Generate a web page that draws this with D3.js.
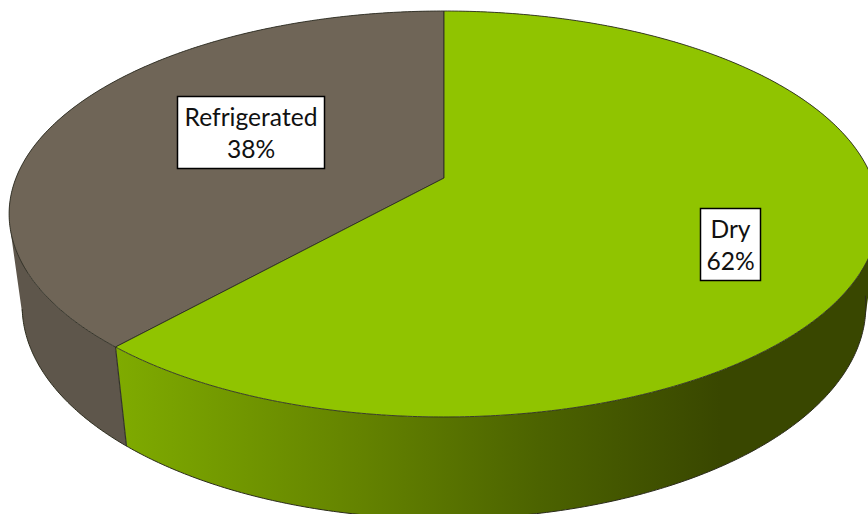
<!DOCTYPE html>
<html lang="en">
    <head>
        <meta charset="utf-8">
        <title>Dry vs Refrigerated</title>
        <script src="https://d3js.org/d3.v7.min.js"></script>
        <style type="text/css">
            html, body { margin: 0; padding: 0; background: #fff; }
            svg { display: block; }
            text { font-family: Lato, "Open Sans", sans-serif; font-size: 24.6px; fill: #111; text-anchor: middle; }
        </style>
    </head>
    <body>
        <script type="text/javascript">

            //data
            const categories = ["Refrigerated", "Dry"];
            const shares = [38.4, 61.6];

            //consts
            const w = 868;
            const h = 514;
            const topColors = ["#6f6557", "#90c400"];
            const wallFill = ["#5e564b", "url(#dryWall)"];

            //perspective tilt of the pie
            const cx = 444, cy = 178;
            const rx = 428, ry = 196.6;
            const tilt = 0.1773, drop = 0.03, depth = 94;

            //project a pie angle (0 = back, going counter clockwise) to the screen, z = 0 top, z = 1 bottom
            function project(angle, z) {
                const u = -Math.sin(angle);
                const v = -Math.cos(angle);
                const k = 1 - tilt * v + drop * z;
                return [cx + rx * u / k, cy + (ry * v + depth * z) / k];
            }

            const line = d3.line();

            function rim(a0, a1, z) {
                const n = Math.ceil((a1 - a0) / 0.01);
                return d3.range(n + 1).map(i => project(a0 + (a1 - a0) * i / n, z));
            }

            //pie layout, first slice goes from the back to the front left
            const pie = d3.pie().sort(null).value(d => d);
            const slices = pie(shares);

            const svg = d3.select("body")
                    .append("svg")
                    .attr("width", w)
                    .attr("height", h);

            //gradient for the green wall
            const grad = svg.append("defs").append("linearGradient")
                    .attr("id", "dryWall")
                    .attr("gradientUnits", "userSpaceOnUse")
                    .attr("x1", 117).attr("x2", 720)
                    .attr("y1", 0).attr("y2", 0);
            grad.append("stop").attr("offset", 0).attr("stop-color", "#7fab00");
            grad.append("stop").attr("offset", 0.4).attr("stop-color", "#648300");
            grad.append("stop").attr("offset", 0.7).attr("stop-color", "#4c6300");
            grad.append("stop").attr("offset", 1).attr("stop-color", "#394700");

            //walls, all quads of a slice in one path so no seams show
            //every quad gets the same winding, otherwise nonzero fill cancels them at the sides
            slices.forEach((s, i) => {
                const topRim = rim(s.startAngle, s.endAngle, 0);
                const bottomRim = rim(s.startAngle, s.endAngle, 1);
                const d = d3.range(topRim.length - 1).map(j => {
                    const quad = [topRim[j], topRim[j + 1], bottomRim[j + 1], bottomRim[j]];
                    return line(d3.polygonArea(quad) < 0 ? quad.reverse() : quad) + "Z";
                }).join("");
                svg.append("path")
                   .attr("d", d)
                   .attr("fill", wallFill[i]);
            });

            //bottom edge and the seam between the slices
            svg.append("path")
               .attr("d", line(rim(Math.PI * 0.56, Math.PI * 1.46, 1)))
               .attr("fill", "none")
               .attr("stroke", "#2b2b1c")
               .attr("stroke-width", 1);

            svg.append("path")
               .attr("d", line([project(slices[0].endAngle, 0), project(slices[0].endAngle, 1)]))
               .attr("stroke", "#33332a")
               .attr("stroke-width", 1.2);

            //top faces
            slices.forEach((s, i) => {
                const pts = [[cx, cy]].concat(rim(s.startAngle, s.endAngle, 0));
                svg.append("path")
                   .attr("d", line(pts) + "Z")
                   .attr("fill", topColors[i])
                   .attr("stroke", "#2e2e24")
                   .attr("stroke-width", 0.9)
                   .attr("stroke-linejoin", "round");
            });

            //data labels
            const labelBoxes = [
                { x: 177.5, y: 96.5, width: 147, height: 72 },
                { x: 700.5, y: 208.5, width: 60, height: 72 }
            ];

            categories.forEach((name, i) => {
                const b = labelBoxes[i];
                svg.append("rect")
                   .attr("x", b.x).attr("y", b.y)
                   .attr("width", b.width).attr("height", b.height)
                   .attr("fill", "#fff")
                   .attr("stroke", "#000")
                   .attr("stroke-width", 1.5);
                svg.append("text")
                   .attr("x", b.x + b.width / 2)
                   .attr("y", b.y + 29)
                   .text(name);
                svg.append("text")
                   .attr("x", b.x + b.width / 2)
                   .attr("y", b.y + 61)
                   .text(Math.round(shares[i]) + "%");
            });
        </script>
    </body>
</html>
